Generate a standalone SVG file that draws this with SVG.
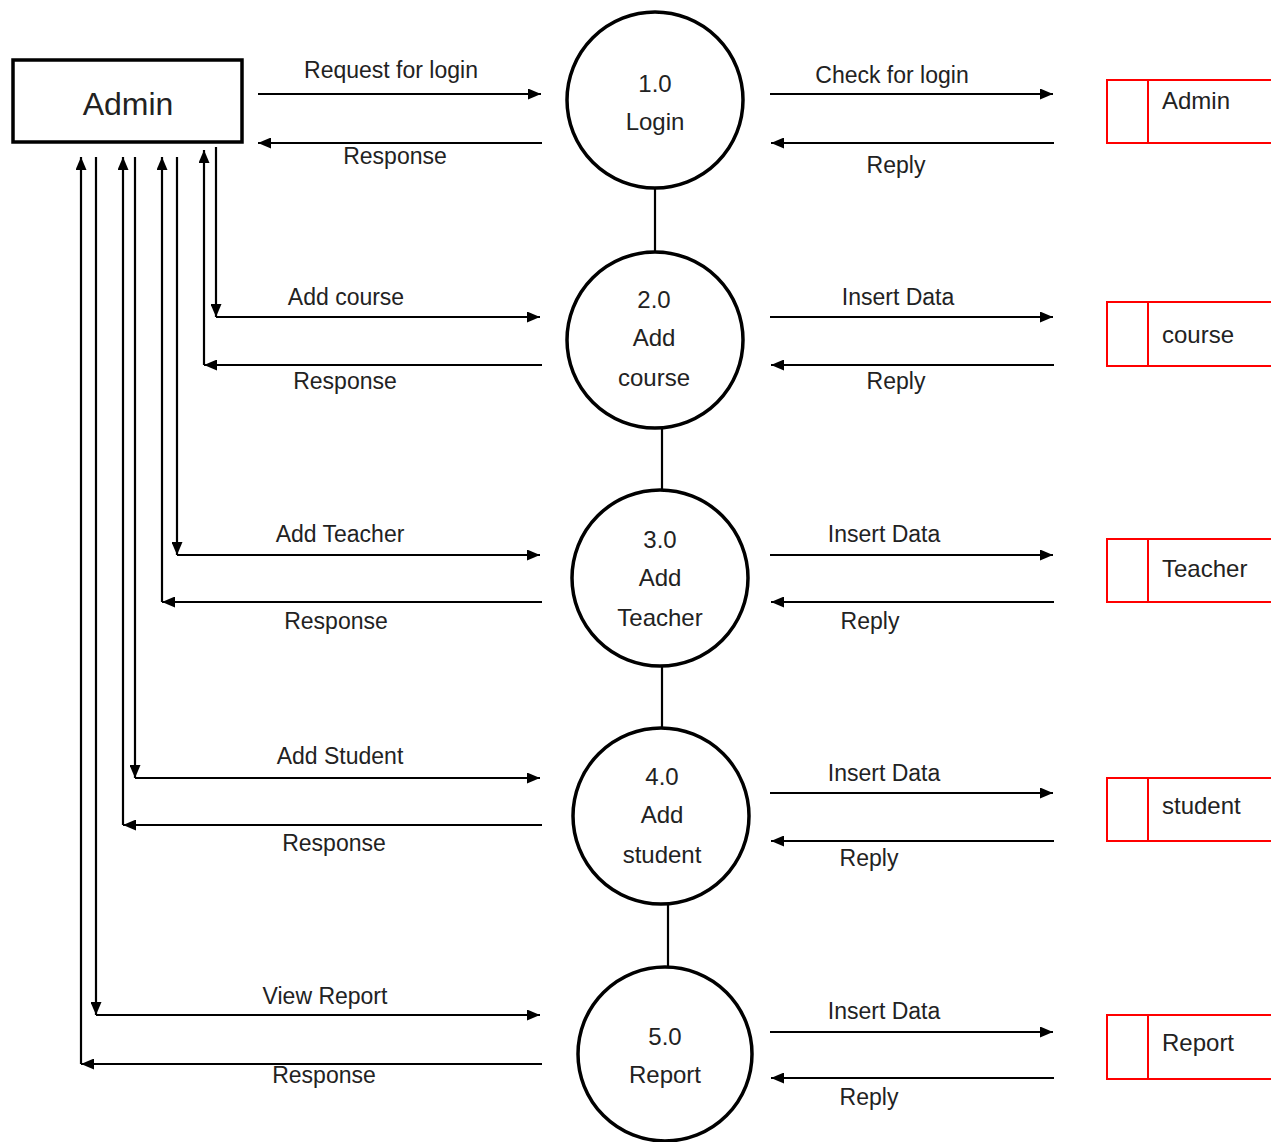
<svg xmlns="http://www.w3.org/2000/svg" width="1271" height="1142" viewBox="0 0 1271 1142">
<style>
text{font-family:"Liberation Sans",Arial,sans-serif;fill:#222;}
.lbl{font-size:23px;text-anchor:middle;}
.pt{font-size:24px;text-anchor:middle;}
.st{font-size:24px;}
.ln{stroke:#000;stroke-width:2.2;fill:none;}
.arr{stroke:#000;stroke-width:2.2;fill:none;marker-end:url(#ah);}
.proc{fill:#fff;stroke:#000;stroke-width:3.5;}
.store{stroke:#f00;stroke-width:2;fill:none;}
</style>
<defs>
<marker id="ah" markerWidth="13" markerHeight="11" refX="13" refY="5.5" orient="auto" markerUnits="userSpaceOnUse"><path d="M0,0 L13,5.5 L0,11 z" fill="#000"/></marker>
</defs>
<rect width="1271" height="1142" fill="#fff"/>

<g id="connectors">
<!-- circle links -->
<line class="ln" x1="655" y1="188" x2="655" y2="252"/>
<line class="ln" x1="662" y1="428" x2="662" y2="490"/>
<line class="ln" x1="662" y1="666" x2="662" y2="728"/>
<line class="ln" x1="668" y1="905" x2="668" y2="968"/>
<!-- row 1 -->
<line class="arr" x1="258" y1="94" x2="541" y2="94"/>
<line class="arr" x1="542" y1="143" x2="258" y2="143"/>
<line class="arr" x1="770" y1="94" x2="1053" y2="94"/>
<line class="arr" x1="1054" y1="143" x2="771" y2="143"/>
<!-- row 2 -->
<line class="arr" x1="216" y1="147" x2="216" y2="317"/>
<line class="arr" x1="216" y1="317" x2="540" y2="317"/>
<line class="arr" x1="542" y1="365" x2="204" y2="365"/>
<line class="arr" x1="204" y1="365" x2="204" y2="150"/>
<line class="arr" x1="770" y1="317" x2="1053" y2="317"/>
<line class="arr" x1="1054" y1="365" x2="771" y2="365"/>
<!-- row 3 -->
<line class="arr" x1="177" y1="157" x2="177" y2="555"/>
<line class="arr" x1="177" y1="555" x2="540" y2="555"/>
<line class="arr" x1="542" y1="602" x2="162" y2="602"/>
<line class="arr" x1="162" y1="602" x2="162" y2="157"/>
<line class="arr" x1="770" y1="555" x2="1053" y2="555"/>
<line class="arr" x1="1054" y1="602" x2="771" y2="602"/>
<!-- row 4 -->
<line class="arr" x1="135" y1="157" x2="135" y2="778"/>
<line class="arr" x1="135" y1="778" x2="540" y2="778"/>
<line class="arr" x1="542" y1="825" x2="123" y2="825"/>
<line class="arr" x1="123" y1="825" x2="123" y2="157"/>
<line class="arr" x1="770" y1="793" x2="1053" y2="793"/>
<line class="arr" x1="1054" y1="841" x2="771" y2="841"/>
<!-- row 5 -->
<line class="arr" x1="96" y1="157" x2="96" y2="1015"/>
<line class="arr" x1="96" y1="1015" x2="540" y2="1015"/>
<line class="arr" x1="542" y1="1064" x2="81" y2="1064"/>
<line class="arr" x1="81" y1="1064" x2="81" y2="157"/>
<line class="arr" x1="770" y1="1032" x2="1053" y2="1032"/>
<line class="arr" x1="1054" y1="1078" x2="771" y2="1078"/>
<!-- labels -->
<text class="lbl" x="391" y="78">Request for login</text>
<text class="lbl" x="395" y="164">Response</text>
<text class="lbl" x="892" y="83">Check for login</text>
<text class="lbl" x="896" y="173">Reply</text>
<text class="lbl" x="346" y="305">Add course</text>
<text class="lbl" x="345" y="389">Response</text>
<text class="lbl" x="898" y="305">Insert Data</text>
<text class="lbl" x="896" y="389">Reply</text>
<text class="lbl" x="340" y="542">Add Teacher</text>
<text class="lbl" x="336" y="629">Response</text>
<text class="lbl" x="884" y="542">Insert Data</text>
<text class="lbl" x="870" y="629">Reply</text>
<text class="lbl" x="340" y="764">Add Student</text>
<text class="lbl" x="334" y="851">Response</text>
<text class="lbl" x="884" y="781">Insert Data</text>
<text class="lbl" x="869" y="866">Reply</text>
<text class="lbl" x="325" y="1004">View Report</text>
<text class="lbl" x="324" y="1083">Response</text>
<text class="lbl" x="884" y="1019">Insert Data</text>
<text class="lbl" x="869" y="1105">Reply</text>
</g>

<g id="admin-entity">
<rect x="13" y="60" width="229" height="82" fill="#fff" stroke="#000" stroke-width="3.5"/>
<text x="128" y="115" font-size="32" text-anchor="middle">Admin</text>
</g>

<g id="p1">
<circle class="proc" cx="655" cy="100" r="88"/>
<text class="pt" x="655" y="92">1.0</text>
<text class="pt" x="655" y="130">Login</text>
</g>
<g id="p2">
<circle class="proc" cx="655" cy="340" r="88"/>
<text class="pt" x="654" y="308">2.0</text>
<text class="pt" x="654" y="346">Add</text>
<text class="pt" x="654" y="386">course</text>
</g>
<g id="p3">
<circle class="proc" cx="660" cy="578" r="88"/>
<text class="pt" x="660" y="548">3.0</text>
<text class="pt" x="660" y="586">Add</text>
<text class="pt" x="660" y="626">Teacher</text>
</g>
<g id="p4">
<circle class="proc" cx="661" cy="816" r="88"/>
<text class="pt" x="662" y="785">4.0</text>
<text class="pt" x="662" y="823">Add</text>
<text class="pt" x="662" y="863">student</text>
</g>
<g id="p5">
<circle class="proc" cx="665" cy="1054" r="87"/>
<text class="pt" x="665" y="1045">5.0</text>
<text class="pt" x="665" y="1083">Report</text>
</g>

<g id="ds-admin">
<path class="store" d="M1271,80 H1107 V143 H1271 M1148,80 V143"/>
<text class="st" x="1162" y="109">Admin</text>
</g>
<g id="ds-course">
<path class="store" d="M1271,302 H1107 V366 H1271 M1148,302 V366"/>
<text class="st" x="1162" y="343">course</text>
</g>
<g id="ds-teacher">
<path class="store" d="M1271,539 H1107 V602 H1271 M1148,539 V602"/>
<text class="st" x="1162" y="577">Teacher</text>
</g>
<g id="ds-student">
<path class="store" d="M1271,778 H1107 V841 H1271 M1148,778 V841"/>
<text class="st" x="1162" y="814">student</text>
</g>
<g id="ds-report">
<path class="store" d="M1271,1015 H1107 V1079 H1271 M1148,1015 V1079"/>
<text class="st" x="1162" y="1051">Report</text>
</g>
</svg>
